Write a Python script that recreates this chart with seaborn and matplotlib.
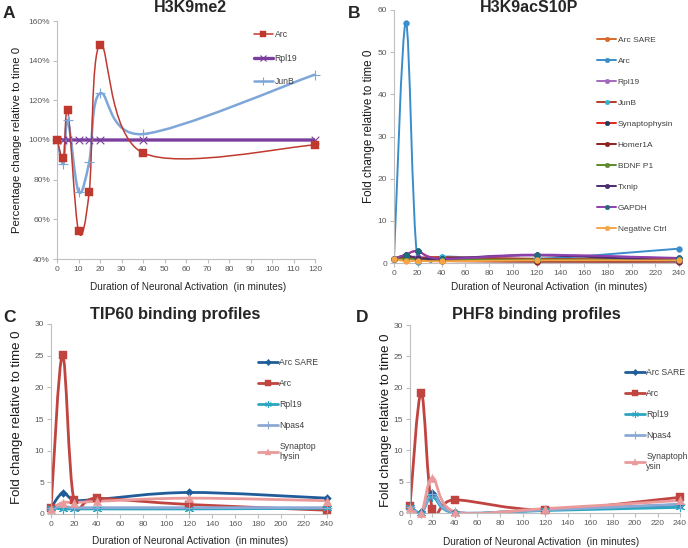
"""Four-panel ChIP time course figure (H3K9me2, H3K9acS10P, TIP60, PHF8)."""

import matplotlib.pyplot as plt
import numpy as np
import seaborn as sns
from matplotlib.lines import Line2D
from matplotlib.patches import PathPatch
from matplotlib.path import Path
from matplotlib.ticker import FuncFormatter

# ---- data -------------------------------------------------------------
A_TIME = [0, 3, 5, 10, 15, 20, 40, 120]
A_ARC = [100, 91, 115, 54, 74, 148, 93.5, 97.5]
A_RPL19 = [100, 100, 100, 100, 100, 100, 100, 100]
A_JUNB = [100, 88, 110, 74, 89, 123.5, 103, 133]

B_TIME = [0, 10, 20, 40, 120, 240]
B_ARC_SARE = [1, 1.2, 1.0, 0.8, 0.8, 1.0]
B_ARC = [1, 57, 0.2, 1.5, 1.0, 3.4]
B_RPL19 = [1, 1.2, 1.5, 1.0, 2.0, 1.0]
B_JUNB = [1, 1.5, 1.2, 1.4, 1.0, 0.8]
B_SYNAPTOPHYSIN = [1, 2.0, 2.8, 1.0, 0.5, 1.2]
B_HOMER1A = [1, 1.2, 1.0, 0.5, 0.3, 0.3]
B_BDNF_P1 = [1, 1.0, 1.0, 0.8, 0.8, 0.8]
B_TXNIP = [1, 1.8, 1.2, 1.0, 1.8, 0.5]
B_GAPDH = [1, 2.0, 2.8, 1.0, 1.9, 1.2]
B_NEG_CTRL = [1, 0.4, 0.5, 0.4, 0.6, 0.6]

C_TIME = [0, 10, 20, 40, 120, 240]
C_ARC_SARE = [1, 3.3, 2.2, 2.3, 3.4, 2.5]
C_ARC = [1, 25.1, 2.2, 2.5, 1.5, 0.6]
C_RPL19 = [1, 0.8, 0.8, 0.8, 0.8, 0.9]
C_NPAS4 = [1, 1.2, 1.0, 1.0, 1.0, 1.0]
C_SYNAPTOPHYSIN = [0.8, 1.8, 1.8, 2.0, 2.5, 2.1]

D_TIME = [0, 10, 20, 40, 120, 240]
D_ARC_SARE = [1, 0.1, 3.2, 0.1, 0.5, 1.3]
D_ARC = [1.1, 19.2, 0.6, 2.1, 0.5, 2.5]
D_RPL19 = [1, 0.0, 2.6, 0.0, 0.4, 0.9]
D_NPAS4 = [1, 0.0, 3.0, 0.1, 0.5, 1.4]
D_SYNAPTOPHYSIN = [0.8, 0.0, 5.6, 0.2, 0.7, 2.0]

# ---- style ------------------------------------------------------------
sns.set_theme(style="white")
plt.rcParams.update({
    "font.family": ["Liberation Sans", "DejaVu Sans"],
    "figure.facecolor": "white",
})

W, H = 688, 548
TICK_GREY = "#595959"
SPINE_GREY = "#BFBFBF"
XLABEL = "Duration of Neuronal Activation  (in minutes)"
YLABEL_FOLD = "Fold change relative to time 0"
ASTERISK = (6, 2, 0)


def fx(px):
    return px / W


def fy(py):
    return 1 - py / H


def smooth_path(x, y):
    """Excel-like smoothed line: cubic Bezier through every data point."""
    pts = np.column_stack([x, y]).astype(float)
    n = len(pts)
    verts = [pts[0]]
    codes = [Path.MOVETO]
    for i in range(n - 1):
        p0 = pts[i - 1] if i > 0 else pts[i]
        p1, p2 = pts[i], pts[i + 1]
        p3 = pts[i + 2] if i + 2 < n else pts[i + 1]
        verts += [p1 + (p2 - p0) / 6, p2 - (p3 - p1) / 6, p2]
        codes += [Path.CURVE4] * 3
    return Path(verts, codes)


def draw_series(ax, x, y, color, marker, lw, ms, mcolor=None, mlw=0.0):
    mcolor = mcolor or color
    ax.add_patch(PathPatch(smooth_path(x, y), fill=False, edgecolor=color,
                           lw=lw, zorder=2, joinstyle="round"))
    filled = marker in ("s", "o", "D", "^")
    sns.scatterplot(x=x, y=y, ax=ax, marker=marker, s=ms ** 2, color=mcolor,
                    edgecolor=mcolor if filled else None,
                    linewidth=mlw if not filled else 0.3,
                    zorder=3, legend=False, clip_on=False)
    return Line2D([], [], color=color, lw=lw, marker=marker, markersize=ms * 0.8,
                  markerfacecolor=mcolor, markeredgecolor=mcolor,
                  markeredgewidth=mlw if not filled else 0.3)


def style_axes(ax, xticks, yticks):
    sns.despine(ax=ax)
    for side in ("left", "bottom"):
        ax.spines[side].set_color(SPINE_GREY)
        ax.spines[side].set_linewidth(0.8)
    ax.set_xticks(xticks)
    ax.set_yticks(yticks)
    ax.set_xlim(xticks[0], xticks[-1])
    ax.set_ylim(yticks[0], yticks[-1])
    ax.tick_params(axis="both", labelsize=6, colors=SPINE_GREY, labelcolor=TICK_GREY,
                   length=3, width=0.8, direction="out", left=True, bottom=True, pad=2)
    ax.grid(False)


def add_legend(ax, handles, labels, x, y, spacing, fontsize=6.2):
    ax.legend(handles, labels, loc="upper left", bbox_to_anchor=(x, y),
              frameon=False, labelspacing=spacing, fontsize=fontsize,
              handlelength=2.3, handletextpad=0.15, borderpad=0,
              labelcolor="#404040")


def set_labels(ax, ylabel, ysize, ycoords, xcoords):
    ax.set_ylabel(ylabel, fontsize=ysize, color="#1a1a1a")
    ax.yaxis.set_label_coords(*ycoords)
    ax.set_xlabel(XLABEL, fontsize=7.2, color="#262626")
    ax.xaxis.set_label_coords(*xcoords)


fig = plt.figure(figsize=(W / 100, H / 100), dpi=100)

# ---- panel A ----------------------------------------------------------
axA = fig.add_axes([fx(57), fy(259), fx(315 - 57), (259 - 21) / H])
hA = [
    draw_series(axA, A_TIME, A_RPL19, "#7A3E9D", "x", 2.4, 5.5, mlw=0.8),
    draw_series(axA, A_TIME, A_JUNB, "#7DA7D9", "+", 1.8, 6.5, mlw=0.8),
    draw_series(axA, A_TIME, A_ARC, "#C0392F", "s", 1.1, 5.5),
]
style_axes(axA, list(range(0, 121, 10)), list(range(40, 161, 20)))
axA.yaxis.set_major_formatter(FuncFormatter(lambda v, _: f"{v:.0f}%"))
add_legend(axA, [hA[2], hA[0], hA[1]], ["Arc", "Rpl19", "JunB"],
           0.745, (259 - 26) / 238, 1.69)
set_labels(axA, "Percentage change relative to time 0", 8.2,
           (-0.136, 0.5), (0.508, -0.097))

# ---- panel B ----------------------------------------------------------
axB = fig.add_axes([fx(394), fy(263), fx(679 - 394), (263 - 10) / H])
b_series = [
    ("Arc SARE", B_ARC_SARE, "#D8692C", None),
    ("Arc", B_ARC, "#3A8DCB", None),
    ("Rpl19", B_RPL19, "#A468BD", None),
    ("JunB", B_JUNB, "#B23A2E", "#2BB3D3"),
    ("Synaptophysin", B_SYNAPTOPHYSIN, "#E0281F", "#1F3A64"),
    ("Homer1A", B_HOMER1A, "#8E2020", None),
    ("BDNF P1", B_BDNF_P1, "#5D8A2C", None),
    ("Txnip", B_TXNIP, "#4B2C6E", None),
    ("GAPDH", B_GAPDH, "#8E3FAE", "#1C6C7E"),
    ("Negative Ctrl", B_NEG_CTRL, "#F6A546", None),
]
hB = [draw_series(axB, B_TIME, vals, col, "o", 1.4, 4.2, mcolor=mc)
      for _, vals, col, mc in b_series]
style_axes(axB, list(range(0, 241, 20)), list(range(0, 61, 10)))
add_legend(axB, hB, [s[0] for s in b_series], (593 - 394) / 285,
           (263 - 32) / 253, 1.58, fontsize=6)
set_labels(axB, YLABEL_FOLD, 8.4, (-0.066, 0.54), (0.544, -0.075))

# ---- panels C and D ---------------------------------------------------
cd_styles = [
    ("#1F5C99", "D", 4.0, None),
    ("#C0443F", "s", 6.0, None),
    ("#2CA6C0", ASTERISK, 6.0, 0.8),
    ("#8CA9D5", "+", 6.5, 0.8),
    ("#EA9A9B", "^", 6.0, None),
]


def draw_binding_panel(rect, time, series, names, legend_xy, title_xy, title):
    ax = fig.add_axes(rect)
    handles = []
    for vals, (col, mk, ms, mlw) in zip(series, cd_styles):
        handles.append(draw_series(ax, time, vals, col, mk, 2.0, ms, mlw=mlw or 0.0))
    style_axes(ax, list(range(0, 241, 20)), list(range(0, 31, 5)))
    add_legend(ax, handles, names, legend_xy[0], legend_xy[1], 1.38)
    fig.text(fx(title_xy[0]), fy(title_xy[1]), title, ha="center", va="center",
             fontsize=11.8, fontweight="bold")
    return ax


axC = draw_binding_panel(
    [fx(51), fy(514), fx(327 - 51), (514 - 324) / H], C_TIME,
    [C_ARC_SARE, C_ARC, C_RPL19, C_NPAS4, C_SYNAPTOPHYSIN],
    ["Arc SARE", "Arc", "Rpl19", "Npas4", "Synaptop\nhysin"],
    ((254 - 51) / 276, (514 - 354) / 190), (175, 314), "TIP60 binding profiles")
set_labels(axC, YLABEL_FOLD, 9.5, (-0.103, 0.51), (0.504, -0.116))

axD = draw_binding_panel(
    [fx(410), fy(513), fx(680 - 410), (513 - 325) / H], D_TIME,
    [D_ARC_SARE, D_ARC, D_RPL19, D_NPAS4, D_SYNAPTOPHYSIN],
    ["Arc SARE", "Arc", "Rpl19", "Npas4", "Synaptoph\nysin"],
    ((621 - 410) / 270, (513 - 364) / 188), (536, 314), "PHF8 binding profiles")
set_labels(axD, YLABEL_FOLD, 9.5, (-0.066, 0.495), (0.485, -0.128))

# ---- titles and panel letters -----------------------------------------
fig.text(fx(190), fy(8), "H3K9me2", ha="center", va="center",
         fontsize=11.5, fontweight="bold")
fig.text(fx(529), fy(8), "H3K9acS10P", ha="center", va="center",
         fontsize=11.5, fontweight="bold")
for letter, (px, py) in {"A": (3, 13), "B": (348, 13), "C": (3, 318), "D": (356, 318)}.items():
    fig.text(fx(px), fy(py), letter, ha="left", va="center",
             fontsize=12.5, fontweight="bold")

fig.savefig("out.png", dpi=100)
plt.close(fig)
